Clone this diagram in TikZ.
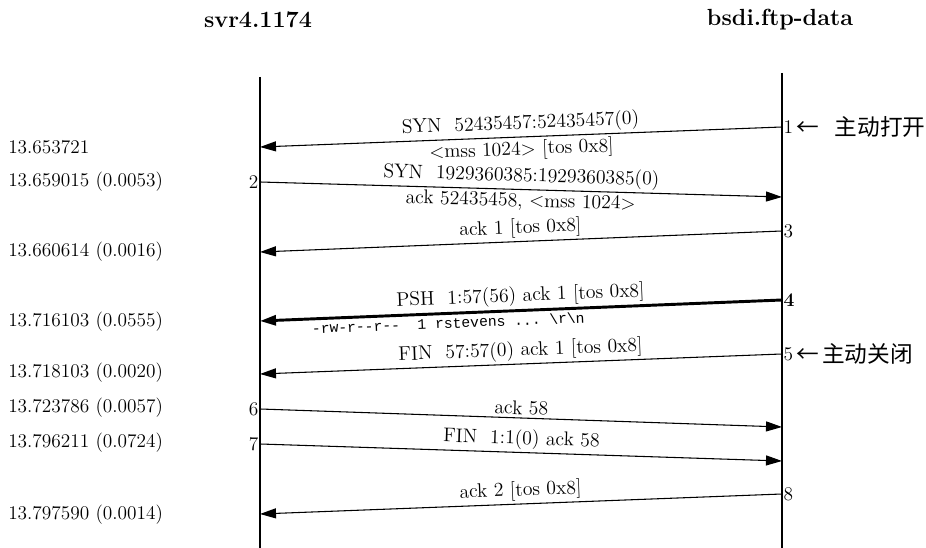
\documentclass[tikz,border=0pt]{standalone}
\usepackage{fontspec}
\setmonofont{Liberation Mono}
\newfontfamily\cjk{Noto Sans CJK SC}
\usetikzlibrary{arrows.meta, positioning}

\begin{document}
\begin{tikzpicture}[
    x=0.75pt, y=-0.75pt,
    >={Triangle[length=12pt, width=7.5pt]},
    msg/.style={->, line width=0.8pt},
    heavymsg/.style={msg, line width=2.2pt},
    life/.style={line width=0.9pt},
    lbl/.style={font=\fontsize{14.8}{17}\selectfont, sloped, inner sep=2pt},
    host/.style={font=\fontsize{17.5}{20}\selectfont\bfseries},
    stamp/.style={anchor=west, font=\fontsize{14.5}{17}\selectfont, inner sep=0pt},
    seqno/.style={font=\fontsize{14.5}{17}\selectfont, inner sep=1pt},
    note/.style={anchor=west, font=\cjk\fontsize{17}{19}\selectfont, inner sep=0pt}
]
\useasboundingbox (0,0) rectangle (926,548);

% Hosts
\node[host] (svr) at (258,20) {svr4.1174};
\node[host] (bsdi) at (780,20) {bsdi.ftp-data};

% Time lines
\coordinate (svrtop) at (260,77);
\coordinate (svrbot) at (260,548);
\coordinate (bsditop) at (782,73);
\coordinate (bsdibot) at (782,548);
\draw[life] (svrtop) -- (svrbot);
\draw[life] (bsditop) -- (bsdibot);

% Segment ends
\coordinate (s1) at (782,127); \coordinate (e1) at (260,147);
\coordinate (s2) at (260,182); \coordinate (e2) at (782,197);
\coordinate (s3) at (782,231); \coordinate (e3) at (260,252);
\coordinate (s4) at (782,300); \coordinate (e4) at (260,321);
\coordinate (s5) at (782,354); \coordinate (e5) at (260,374);
\coordinate (s6) at (260,409); \coordinate (e6) at (782,427);
\coordinate (s7) at (260,444); \coordinate (e7) at (782,461);
\coordinate (s8) at (782,494); \coordinate (e8) at (260,514);

% Segment numbers
\node[seqno, anchor=west] (n1) at (s1) {1};
\node[seqno, anchor=east] (n2) at (s2) {2};
\node[seqno, anchor=west] (n3) at (s3) {3};
\node[seqno, anchor=west] (n4) at (s4) {\textbf{4}};
\node[seqno, anchor=west] (n5) at (s5) {5};
\node[seqno, anchor=east] (n6) at (s6) {6};
\node[seqno, anchor=east] (n7) at (s7) {7};
\node[seqno, anchor=west] (n8) at (s8) {8};

% Notes
\node[note, right=1pt of n1] (open) {←\hspace{0.7em}主动打开};
\node[note, right=1pt of n5] (close) {←\hspace{0.15em}主动关闭};

% Timestamps
\node[stamp] (t1) at (8,147) {13.653721};
\node[stamp] (t2) at (8,182) {13.659015 (0.0053)};
\node[stamp] (t3) at (8,252) {13.660614 (0.0016)};
\node[stamp] (t4) at (8,322) {13.716103 (0.0555)};
\node[stamp] (t5) at (8,373) {13.718103 (0.0020)};
\node[stamp] (t6) at (8,408) {13.723786 (0.0057)};
\node[stamp] (t7) at (8,443) {13.796211 (0.0724)};
\node[stamp] (t8) at (8,515) {13.797590 (0.0014)};

% Segments
\draw[msg] (s1) -- node[lbl, above] {SYN\ \ 52435457:52435457(0)}
    node[lbl, below] {<mss 1024> [tos 0x8]} (e1);
\draw[msg] (s2) -- node[lbl, above] {SYN\ \ 1929360385:1929360385(0)}
    node[lbl, below] {ack 52435458, <mss 1024>} (e2);
\draw[msg] (s3) -- node[lbl, above] {ack 1 [tos 0x8]} (e3);
\draw[heavymsg] (s4) -- node[lbl, above] {PSH\ \ 1:57(56) ack 1 [tos 0x8]}
    node[lbl, below, pos=0.64, font=\ttfamily\fontsize{11}{13}\selectfont] {-rw-r-{}-r-{}-\ \ 1 rstevens ... \textbackslash r\textbackslash n} (e4);
\draw[msg] (s5) -- node[lbl, above] {FIN\ \ 57:57(0) ack 1 [tos 0x8]} (e5);
\draw[msg] (s6) -- node[lbl, above] {ack 58} (e6);
\draw[msg] (s7) -- node[lbl, above] {FIN\ \ 1:1(0) ack 58} (e7);
\draw[msg] (s8) -- node[lbl, above] {ack 2 [tos 0x8]} (e8);

\end{tikzpicture}
\end{document}
